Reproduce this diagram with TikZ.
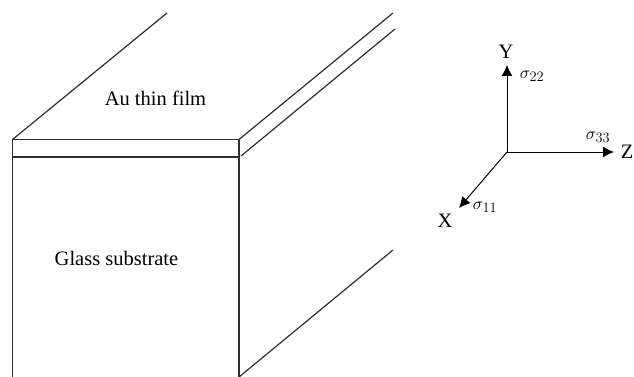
\documentclass[tikz,border=0pt]{standalone}
\usepackage{fontspec}
\setmainfont{Liberation Serif}
\usepackage{amsmath}
\usetikzlibrary{arrows.meta,positioning,calc}
\definecolor{edgegray}{RGB}{45,45,45}
\DeclareMathSizes{17}{17}{13.5}{10}
\tikzset{
    edge/.style={draw=edgegray, line width=1.2pt},
    axis/.style={draw=black, line width=1pt, -{Latex[length=11pt,width=11pt]}},
    label/.style={font=\fontsize{20.5}{23}\selectfont, inner sep=0pt},
    stress/.style={font=\fontsize{17}{20}\selectfont, inner sep=0pt}
}

\begin{document}
\begin{tikzpicture}[x=1pt,y=-1pt]
            \useasboundingbox (0,0) rectangle (634,377);

            % Front corners
            \coordinate (filmTL) at (12.5,139.5);
            \coordinate (filmTR) at (239,139.5);
            \coordinate (filmBL) at (12.5,157);
            \coordinate (filmBR) at (239,157);
            \coordinate (glassBL) at (12.5,377);
            \coordinate (glassBR) at (239,377);

            % Free ends of the receding edges
            \coordinate (backL) at (167,13);
            \coordinate (backR) at (393,13);
            \coordinate (midStart) at (241,156);
            \coordinate (midEnd) at (395,29);
            \coordinate (lowEnd) at (393,250);

            % Front faces
            \draw[edge] (glassBL) -- (filmTL) -- (filmTR) -- (glassBR);
            \draw[edge] (filmBL) -- (filmBR);

            % Receding edges
            \draw[edge] (filmTL) -- (backL);
            \draw[edge] (filmTR) -- (backR);
            \draw[edge] (midStart) -- (midEnd);
            \draw[edge] (glassBR) -- (lowEnd);

            % Labels on the block
            \node[label] (film) at (155.5,98) {Au thin film};
            \node[label] (glass) at (116.5,258) {Glass substrate};

            % Axes
            \coordinate (origin) at (507,152);
            \coordinate (tipY) at (507,65);
            \coordinate (tipZ) at (614,152);
            \coordinate (tipX) at (459,208);
            \draw[axis] (origin) -- (tipY);
            \draw[axis] (origin) -- (tipZ);
            \draw[axis] (origin) -- (tipX);

            % Axis names
            \node[label] (nameY) at (506,52) {Y};
            \node[label, anchor=east] (nameZ) at (633.5,152) {Z};
            \node[label] (nameX) at (445,221) {X};

            % Stress components
            \node[stress] (s22) at (532,76) {$\sigma_{22}$};
            \node[stress] (s33) at (598,137) {$\sigma_{33}$};
            \node[stress] (s11) at (485,207) {$\sigma_{11}$};
\end{tikzpicture}
\end{document}
